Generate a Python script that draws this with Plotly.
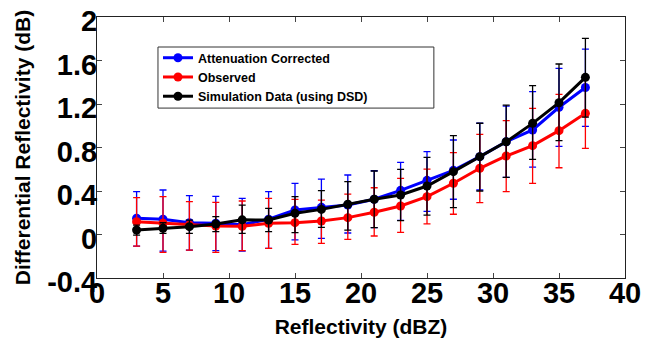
import plotly.graph_objects as go

# ---- data ----
reflectivity = [3, 5, 7, 9, 11, 13, 15, 17, 19, 21, 23, 25, 27, 29, 31, 33, 35, 37]

corrected = [0.149, 0.140, 0.109, 0.103, 0.090, 0.140, 0.225, 0.250, 0.271, 0.324, 0.406, 0.498,
             0.590, 0.716, 0.853, 0.961, 1.170, 1.352]
corrected_upper = [0.394, 0.409, 0.357, 0.351, 0.333, 0.394, 0.471, 0.510, 0.547, 0.586, 0.664, 0.762,
                   0.869, 1.023, 1.180, 1.313, 1.528, 1.705]
corrected_lower = [-0.106, -0.152, -0.143, -0.149, -0.152, -0.127, -0.050, -0.035, 0.014, 0.064, 0.130, 0.213,
                   0.324, 0.409, 0.526, 0.620, 0.810, 0.995]

observed = [0.118, 0.103, 0.087, 0.078, 0.075, 0.103, 0.109, 0.124, 0.155, 0.205, 0.262, 0.348,
            0.471, 0.609, 0.722, 0.817, 0.955, 1.114]
observed_upper = [0.339, 0.348, 0.302, 0.296, 0.308, 0.333, 0.323, 0.317, 0.372, 0.430, 0.517, 0.602,
                  0.752, 0.921, 1.047, 1.160, 1.289, 1.450]
observed_lower = [-0.106, -0.164, -0.143, -0.164, -0.149, -0.127, -0.090, -0.081, -0.044, -0.014, 0.020, 0.097,
                  0.186, 0.293, 0.394, 0.471, 0.614, 0.792]

simulation = [0.041, 0.057, 0.072, 0.097, 0.135, 0.133, 0.195, 0.231, 0.278, 0.324, 0.363, 0.446,
              0.578, 0.716, 0.853, 1.022, 1.212, 1.445]
simulation_upper = [0.087, 0.108, 0.133, 0.164, 0.271, 0.241, 0.348, 0.403, 0.486, 0.584, 0.599, 0.710,
                    0.909, 1.023, 1.190, 1.369, 1.568, 1.804]
simulation_lower = [-0.005, 0.011, 0.011, 0.026, 0.011, 0.026, 0.017, 0.066, 0.041, 0.064, 0.127, 0.179,
                    0.247, 0.400, 0.526, 0.691, 0.863, 1.080]

x_ticks = [0, 5, 10, 15, 20, 25, 30, 35, 40]
x_ticklabels = ["0", "5", "10", "15", "20", "25", "30", "35", "40"]
y_ticks = [-0.4, 0, 0.4, 0.8, 1.2, 1.6, 2.0]
y_ticklabels = ["-0.4", "0", "0.4", "0.8", "1.2", "1.6", "2"]

series_names = ["Attenuation Corrected", "Observed", "Simulation Data (using DSD)"]
series_colors = ["#0000FF", "#FF0000", "#000000"]
series = [
    (corrected, corrected_upper, corrected_lower),
    (observed, observed_upper, observed_lower),
    (simulation, simulation_upper, simulation_lower),
]

FONT = "Arial, Liberation Sans, sans-serif"

fig = go.Figure()
for (y, up, lo), name, color in zip(series, series_names, series_colors):
    fig.add_trace(go.Scatter(
        x=reflectivity, y=y, name=name, mode="lines+markers",
        line=dict(color=color, width=3),
        marker=dict(color=color, size=9, symbol="circle"),
        error_y=dict(type="data", symmetric=False,
                     array=[u - v for u, v in zip(up, y)],
                     arrayminus=[v - l for v, l in zip(y, lo)],
                     color=color, thickness=1.3, width=3.5),
    ))

# legend frame (wider than the entries, as in the original)
fig.add_shape(type="rect", xref="paper", yref="paper",
              x0=0.1155, x1=0.638, y0=0.651, y1=0.885,
              line=dict(color="#333333", width=1), fillcolor="white", layer="below")

fig.update_layout(
    width=651, height=339,
    margin=dict(l=89, r=34, t=9, b=69),
    plot_bgcolor="white", paper_bgcolor="white",
    font=dict(family=FONT, color="black"),
    showlegend=True,
    legend=dict(x=0.1155, y=0.900, xanchor="left", yanchor="top",
                bgcolor="rgba(0,0,0,0)", borderwidth=0,
                font=dict(family=FONT, size=12.5, weight="bold", color="black"),
                tracegroupgap=0),
)
fig.update_xaxes(
    automargin=False,
    range=[0, 40], tickvals=x_ticks, ticktext=x_ticklabels,
    showgrid=False, zeroline=False,
    showline=True, linecolor="#222222", linewidth=1, mirror="ticks",
    ticks="inside", ticklen=5, tickcolor="#444444",
    tickfont=dict(family=FONT, size=29, weight="bold"),
    ticklabelstandoff=-11, ticklabeloverflow="allow",
    title=dict(text="Reflectivity (dBZ)", font=dict(family=FONT, size=21, weight="bold"), standoff=11),
)
fig.update_yaxes(
    automargin=False,
    range=[-0.4, 2.0], tickvals=y_ticks, ticktext=y_ticklabels,
    showgrid=False, zeroline=False,
    showline=True, linecolor="#222222", linewidth=1, mirror="ticks",
    ticks="inside", ticklen=5, tickcolor="#444444",
    tickfont=dict(family=FONT, size=29, weight="bold"),
    ticklabelstandoff=-7, ticklabelshift=4, ticklabeloverflow="allow",
    title=dict(text="Differential Reflectivity (dB)", font=dict(family=FONT, size=21, weight="bold"), standoff=10),
)

fig.write_html("out.html")
